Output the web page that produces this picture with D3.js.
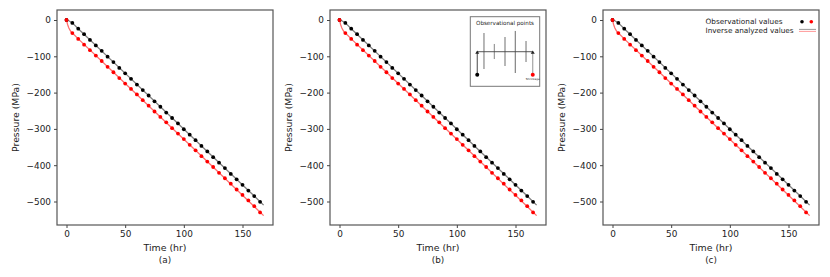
<!DOCTYPE html>
<html><head><meta charset="utf-8"><script src="https://cdn.jsdelivr.net/npm/d3@7"></script>
<style>html,body{margin:0;background:#fff}svg{display:block}text{font-family:"DejaVu Sans",sans-serif;fill:#222}</style></head><body>
<script>
const panelLabels=["(a)","(b)","(c)"];
const panelLefts=[57,330,603];
const obsTime=[0,5,10,15,20,25,30,35,40,45,50,55,60,65,70,75,80,85,90,95,100,105,110,115,120,125,130,135,140,145,150,155,160,165];
const obsBlack=[0,-8,-24,-39,-55,-70,-85,-101,-116,-132,-147,-162,-178,-193,-208,-224,-239,-255,-270,-285,-301,-316,-331,-347,-362,-378,-393,-408,-424,-439,-454,-470,-485,-501];
const obsRed=[0,-36,-52,-68,-83,-98,-113,-129,-144,-160,-175,-190,-205,-221,-236,-252,-267,-282,-298,-313,-328,-344,-359,-375,-390,-405,-421,-436,-451,-467,-482,-497,-513,-530];
const fitTime=[0,1,2,3,4,5,10,40,80,120,160,168];
const fitBlack=[0,-1,-2,-4,-6,-8,-24,-116,-239,-362,-485,-510];
const fitRed=[0,-13,-22,-28,-33,-36,-52,-144,-267,-390,-514,-539];
const xTicks=[0,50,100,150];
const yTicks=[0,-100,-200,-300,-400,-500];
const insetStems=[[0.197,0.234,0.751,"#999",1.4],[0.346,0.392,0.608,"#666",0.8],[0.5,0.292,0.708,"#999",1.4],[0.648,0.205,0.809,"#444",0.8],[0.803,0.349,0.651,"#999",1.4]];
const W=830,H=277,plotTop=10,plotBottom=225,plotW=216;
const svg=d3.select("body").append("svg").attr("width",W).attr("height",H);
panelLabels.forEach((lab,i)=>{
 const L=panelLefts[i];
 const x=d3.scaleLinear().domain([0,150]).range([L+9.5,L+185.5]);
 const y=d3.scaleLinear().domain([0,-500]).range([20,201.5]);
 const g=svg.append("g");
 const line=(ts,vs)=>d3.line().x((d,j)=>x(ts[j])).y(d=>y(d))(vs);
 g.append("path").attr("d",line(fitTime,fitBlack)).attr("fill","none").attr("stroke","#808080").attr("stroke-width",1.3);
 g.append("path").attr("d",line(fitTime,fitRed)).attr("fill","none").attr("stroke","#ff7070").attr("stroke-width",1.3);
 g.selectAll(".b").data(obsBlack).enter().append("circle").attr("cx",(d,j)=>x(obsTime[j])).attr("cy",d=>y(d)).attr("r",1.9).attr("fill","#000");
 g.selectAll(".r").data(obsRed).enter().append("circle").attr("cx",(d,j)=>x(obsTime[j])).attr("cy",d=>y(d)).attr("r",1.9).attr("fill","#f00");
 g.append("rect").attr("x",L).attr("y",plotTop).attr("width",plotW).attr("height",plotBottom-plotTop).attr("fill","none").attr("stroke","#555").attr("stroke-width",1.2);
 const ax=g.append("g").attr("transform",`translate(0,${plotBottom})`).call(d3.axisBottom(x).tickValues(xTicks).tickSize(3).tickPadding(3));
 const ay=g.append("g").attr("transform",`translate(${L},0)`).call(d3.axisLeft(y).tickValues(yTicks).tickSize(3).tickPadding(3).tickFormat(d=>d<0?"\u2212"+(-d):d));
 [ax,ay].forEach(a=>{a.select(".domain").remove();a.selectAll("text").attr("font-size",8.9).style("font-family",'"DejaVu Sans"').attr("fill","#222");a.selectAll("line").attr("stroke","#444")});
 g.append("text").attr("x",L+108).attr("y",251).attr("text-anchor","middle").attr("font-size",9.4).text("Time (hr)");
 g.append("text").attr("x",L+108).attr("y",263).attr("text-anchor","middle").attr("font-size",8.8).text(lab);
 g.append("text").attr("transform",`translate(${L-38},${(plotTop+plotBottom)/2}) rotate(-90)`).attr("text-anchor","middle").attr("font-size",9.3).text("Pressure (MPa)");
});
// inset of panel b
const ix=d3.scaleLinear().domain([0,1]).range([470.3,539.7]),iy=d3.scaleLinear().domain([0,1]).range([16.7,86.3]);
const ins=svg.append("g");
ins.append("rect").attr("x",ix(0)).attr("y",iy(0)).attr("width",ix(1)-ix(0)).attr("height",iy(1)-iy(0)).attr("fill","#fff").attr("stroke","#777").attr("stroke-width",1);
ins.append("text").attr("x",ix(0.5)).attr("y",24.5).attr("text-anchor","middle").attr("font-size",5.6).text("Observational points");
ins.selectAll("line.s").data(insetStems).enter().append("line").attr("x1",d=>ix(d[0])).attr("x2",d=>ix(d[0])).attr("y1",d=>iy(d[1])).attr("y2",d=>iy(d[2])).attr("stroke",d=>d[3]).attr("stroke-width",d=>d[4]);
const insX=[0.10,0.90],insTop=0.503,insBot=0.833;
ins.append("line").attr("x1",ix(insX[0])).attr("x2",ix(insX[1])).attr("y1",iy(insTop)).attr("y2",iy(insTop)).attr("stroke","#444").attr("stroke-width",0.9);
insX.forEach((v,k)=>{
 ins.append("line").attr("x1",ix(v)).attr("x2",ix(v)).attr("y1",iy(insTop)).attr("y2",iy(insBot)).attr("stroke",k?"#888":"#333").attr("stroke-width",0.9);
 ins.append("path").attr("d",d3.symbol(d3.symbolTriangle,7)()).attr("transform",`translate(${ix(v)},${iy(insTop)+1})`).attr("fill","#222");
 ins.append("circle").attr("cx",ix(v)).attr("cy",iy(insBot)).attr("r",2).attr("fill",k?"#f00":"#000");
});
ins.append("text").attr("x",ix(0.90)).attr("y",79.5).attr("text-anchor","middle").attr("font-size",2.8).text("Shrinkage");
// legend in panel c
const leg=svg.append("g");
leg.append("text").attr("x",705.5).attr("y",24).attr("font-size",7.3).text("Observational values");
leg.append("text").attr("x",705.5).attr("y",32.7).attr("font-size",7.3).text("Inverse analyzed values");
leg.append("circle").attr("cx",802).attr("cy",21.7).attr("r",1.8).attr("fill","#000");
leg.append("circle").attr("cx",811.3).attr("cy",21.7).attr("r",1.8).attr("fill","#f00");
leg.append("line").attr("x1",799).attr("x2",816).attr("y1",29.4).attr("y2",29.4).attr("stroke","#999");
leg.append("line").attr("x1",799).attr("x2",816).attr("y1",31.4).attr("y2",31.4).attr("stroke","#f99");
</script></body></html>
